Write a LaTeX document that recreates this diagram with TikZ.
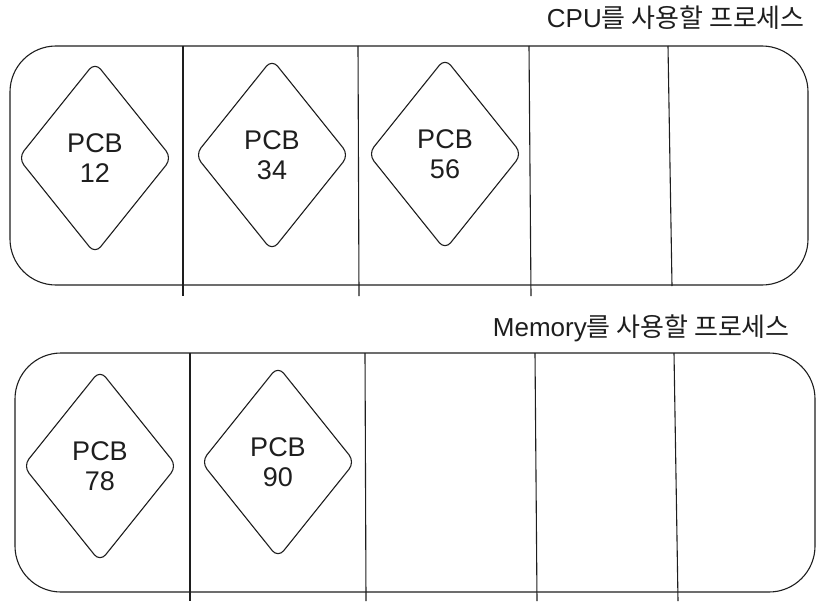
\documentclass[tikz,border=0pt]{standalone}
\usepackage{fontspec}
\setmainfont{Liberation Sans}
\newfontfamily\krfont{Noto Sans CJK KR}
\usetikzlibrary{shapes.geometric}
\definecolor{ink}{HTML}{1E1E1E}
\begin{document}
\begin{tikzpicture}[x=1pt,y=-1pt,
  pcb/.style={diamond, draw=ink, line width=1.1pt, rounded corners=9pt, inner sep=0pt,
    minimum width=154pt, minimum height=192pt, align=center,
    font=\fontsize{27}{30}\selectfont, text=ink},
  lbl/.style={anchor=east, inner sep=0pt, font=\fontsize{26}{30}\selectfont, text=ink},
  qbox/.style={line width=1.1pt, draw=ink, rounded corners=46pt},
  slot/.style={line width=1.1pt, draw=ink}]
\useasboundingbox (0,0) rectangle (826,602);
% top queue
\draw[qbox] (10,46) rectangle (808,285);
\coordinate (t1a) at (183,46); \coordinate (t1b) at (183,296);
\coordinate (t2a) at (358,46); \coordinate (t2b) at (359,296);
\coordinate (t3a) at (529,46); \coordinate (t3b) at (531,296);
\coordinate (t4a) at (668,46); \coordinate (t4b) at (672,286);
\draw[slot] (t1a) -- (t1b);
\draw[slot] (t2a) -- (t2b);
\draw[slot] (t3a) -- (t3b);
\draw[slot] (t4a) -- (t4b);
\node[pcb] (p12) at (95,158) {PCB\\12};
\node[pcb] (p34) at (272,155) {PCB\\34};
\node[pcb] (p56) at (445,154) {PCB\\56};
\node[lbl] (cpu) at (805,18) {CPU{\krfont 를 사용할 프로세스}};
% bottom queue
\draw[qbox] (15,353) rectangle (815,592);
\coordinate (b1a) at (190,353); \coordinate (b1b) at (190,601);
\coordinate (b2a) at (365,353); \coordinate (b2b) at (366,601);
\coordinate (b3a) at (535,353); \coordinate (b3b) at (537,601);
\coordinate (b4a) at (674,353); \coordinate (b4b) at (678,601);
\draw[slot] (b1a) -- (b1b);
\draw[slot] (b2a) -- (b2b);
\draw[slot] (b3a) -- (b3b);
\draw[slot] (b4a) -- (b4b);
\node[pcb] (p78) at (100,466) {PCB\\78};
\node[pcb] (p90) at (278,462) {PCB\\90};
\node[lbl] (mem) at (790,328) {Memory{\krfont 를 사용할 프로세스}};
\end{tikzpicture}
\end{document}
